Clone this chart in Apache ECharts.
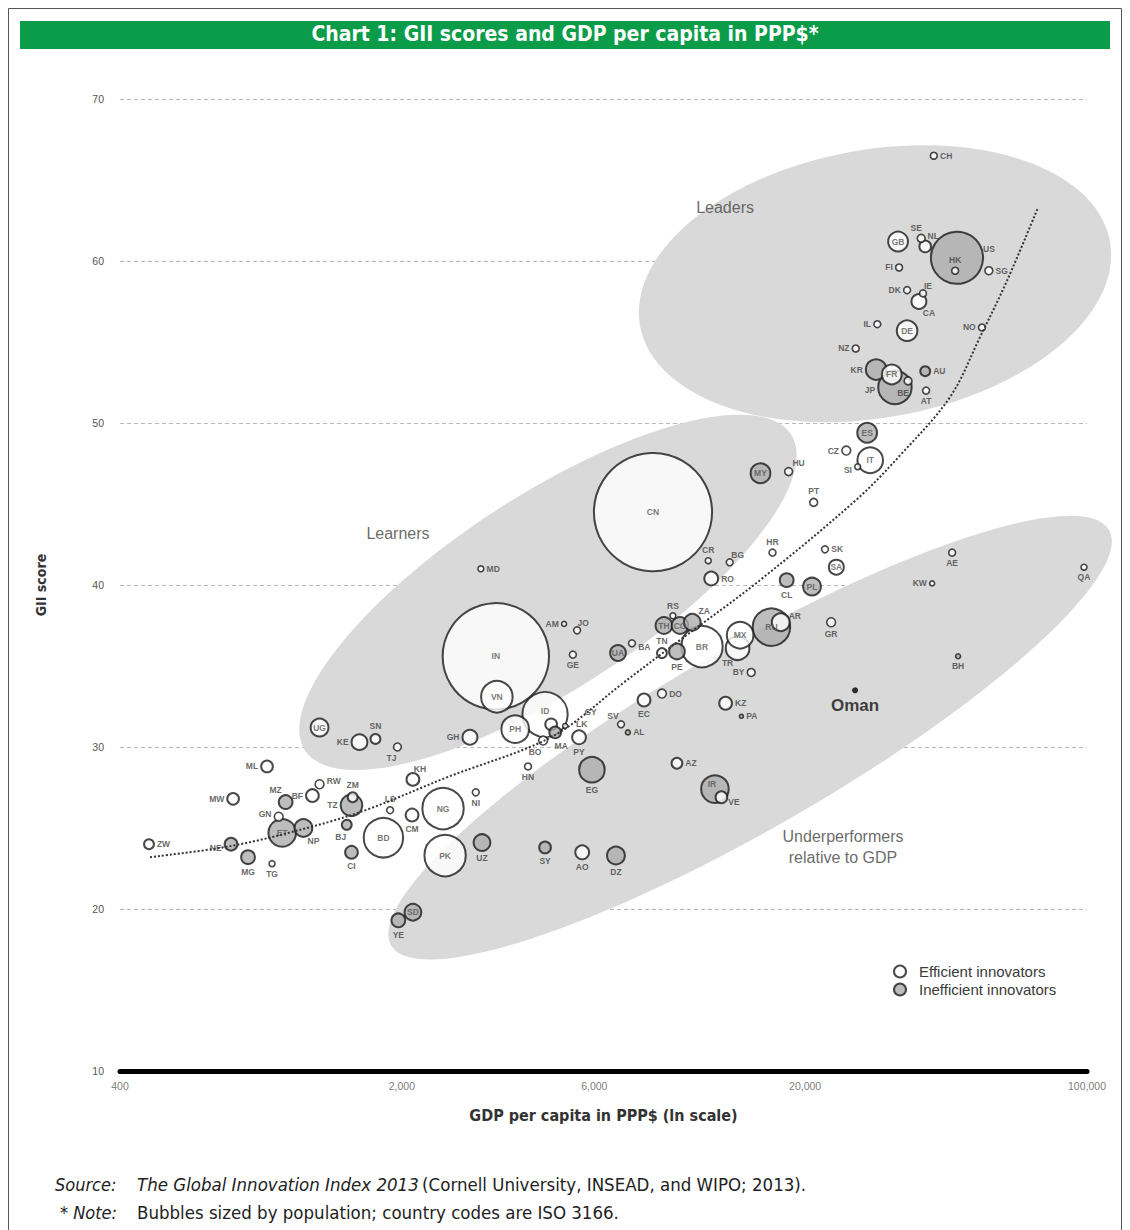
<!DOCTYPE html>
<html><head><meta charset="utf-8">
<script src="https://cdn.jsdelivr.net/npm/echarts@6/dist/echarts.min.js"></script>
<style>html,body{margin:0;padding:0;background:#fff;}#c{width:1130px;height:1230px;}</style>
</head><body><div id="c"></div>
<script>
// ---------------- DATA ----------------
const codes = ['CH','GB','SE','NL','US','HK','SG','FI','DK','IE',
  'CA','IL','DE','NO','NZ','KR','FR','AU','JP','BE',
  'AT','ES','CZ','IT','SI','HU','MY','PT','CN','SK',
  'HR','AE','CR','BG','SA','QA','MD','CL','RO','PL',
  'KW','RS','TH','CO','ZA','AR','RU','GR','MX','TR',
  'BR','TN','PE','UA','BA','AM','JO','GE','IN','BH',
  'BY','VN','DO','EC','KZ','PA','ID','SV','AL','PH',
  'LK','GY','MA','BO','PY','GH','UG','KE','SN','TJ',
  'AZ','HN','EG','ML','KH','IR','VE','NI','MW','BF',
  'RW','ZM','MZ','TZ','LS','GN','CM','NG','BJ','NP',
  'ET','BD','UZ','ZW','NE','SY','AO','CI','PK','DZ',
  'MG','TG','SD','YE'];
const gdpPerCapita = [41700,34000,38800,39700,47600,47100,57100,34200,35800,39200,
  38300,30200,35800,54900,26700,30000,32800,39700,33400,36000,
  39900,28500,25300,29000,27000,18200,15500,21000,8390,22400,
  16600,46300,11500,13000,23900,98300,3140,18000,11700,20800,
  41300,9400,8930,9790,10500,17400,16500,23200,13800,13600,
  11100,8830,9620,6870,7440,5050,5440,5310,3420,47900,
  14700,3440,8830,7970,12700,13900,4530,6990,7270,3820,
  4690,5080,4800,4480,5500,2950,1250,1570,1720,1950,
  9620,4110,5920,926,2130,11950,12400,3050,763,1200,
  1250,1510,1030,1500,1870,990,2120,2530,1460,1140,
  1010,1800,3160,472,754,4530,5600,1500,2560,6790,
  831,953,2130,1960];
const giiScore = [66.5,61.2,61.4,60.9,60.2,59.4,59.4,59.6,58.2,58.0,
  57.5,56.1,55.7,55.9,54.6,53.3,53.0,53.2,52.2,52.6,
  52.0,49.4,48.3,47.7,47.3,47.0,46.9,45.1,44.5,42.2,
  42.0,42.0,41.5,41.4,41.1,41.1,41.0,40.3,40.4,39.9,
  40.1,38.1,37.5,37.5,37.7,37.7,37.4,37.7,36.9,36.1,
  36.2,35.8,35.9,35.8,36.4,37.6,37.2,35.7,35.6,35.6,
  34.6,33.1,33.3,32.9,32.7,31.9,32.0,31.4,30.9,31.1,
  31.4,31.3,30.9,30.4,30.6,30.6,31.2,30.3,30.5,30.0,
  29.0,28.8,28.6,28.8,28.0,27.4,26.9,27.2,26.8,27.0,
  27.7,26.9,26.6,26.4,26.1,25.7,25.8,26.2,25.2,25.0,
  24.7,24.4,24.1,24.0,24.0,23.8,23.5,23.5,23.3,23.3,
  23.2,22.8,19.8,19.3];
const populationMn = [4.5,37,5.9,13,258,4.5,5.9,4.5,4.5,4.5,
  21,4.5,40,4.5,4.5,40,37,9.2,106,5.9,
  4.5,37,7.4,62,3.3,5.9,37,5.9,1322,4.5,
  4.5,4.5,3.3,4.5,21,3.3,3.3,18,18,30,
  2.3,3.3,26.5,26.5,26.5,30,133,7.4,67,53,
  162,9.2,23.5,23.5,4.5,2.3,4.5,4.5,1071,2.3,
  5.9,94,7.4,15.5,15.5,1.5,194,4.5,2.3,72,
  13,2.3,13,7.4,18,21,30,23.5,9.2,5.9,
  11,4.5,62,13,15.5,72,13,4.5,13,15.5,
  7.4,9.2,18,44,4.5,7.4,15.5,162,9.2,30,
  72,147,26.5,9.2,15.5,13,18,15.5,162,30,
  18,3.3,26.5,18];
const efficientInnovator = [1,1,1,1,0,1,1,1,1,1,
  1,1,1,1,1,0,1,0,0,1,
  1,0,1,1,1,1,0,1,1,1,
  1,1,1,1,1,1,1,0,1,0,
  1,1,0,0,0,1,0,1,1,1,
  1,1,0,0,1,1,1,1,1,0,
  1,1,1,1,1,0,1,1,0,1,
  1,1,0,1,1,1,1,1,1,1,
  1,1,0,1,1,0,1,1,1,1,
  1,1,0,0,1,1,1,1,0,0,
  0,1,0,1,0,0,1,0,1,0,
  0,1,0,0];
const highlightName = ['Oman'];
const highlightGdp = [26600];
const highlightGii = [33.5];
const trendGdp = [475,758,1204,1667,2632,4157,5135,6951,9788,15461,26893,34384,45731,54280,63370,75600];
const trendGii = [23.2,23.9,25.1,26.2,28.2,30.0,31.2,33.8,36.6,40.3,45.3,48.0,51.6,55.3,58.8,63.3];
const xTickValues = [400,2000,6000,20000,100000];
const yTickMin = 10, yTickMax = 70, yTickStep = 10;
const regionNames = ['Leaders','Learners','Underperformers\nrelative to GDP'];
const regionLabelGdp = [12660,1956,24830];
const regionLabelGii = [63.3,43.2,23.8];
const regionStartGdp = [7790,1150,1880];
const regionStartGii = [56.0,29.8,17.75];
const regionEndGdp = [114000,18450,113400];
const regionEndGii = [61.2,49.3,43.4];
const legendNames = ['Efficient innovators','Inefficient innovators'];

// ---------------- STYLE / LAYOUT ----------------
const NARROW = '"Liberation Sans Narrow","Arial Narrow","DejaVu Sans Condensed",sans-serif';
const SANS = '"Liberation Sans",Arial,sans-serif';
const REGION_HALF_WIDTH_PX = [134, 97, 90];
const SIZE_K = 3.25;
const LBL = {CH:'r',GB:'i',SE:['t',-5,1],NL:['t',8,3],US:['r',-3,-9],HK:['t',0,0],SG:'r',FI:'l',DK:'l',IE:['t',5,3],
 CA:['b',10,-3],IL:'l',DE:'i',NO:'l',NZ:'l',KR:'l',FR:'i',AU:'r',JP:['l',0,3],BE:['b',-5,1],
 AT:'b',ES:'i',CZ:'l',IT:'i',SI:['l',0,3],HU:['t',10,3],MY:'i',PT:'t',CN:'i',SK:'r',
 HR:'t',AE:'b',CR:'t',BG:['t',8,3],SA:'i',QA:'b',MD:'r',CL:'b',RO:'r',PL:'i',
 KW:'l',RS:'t',TH:'i',CO:'i',ZA:['t',12,5],AR:['r',-4,-6],RU:'i',GR:'b',MX:'i',TR:['b',-10,-5],
 BR:'i',TN:'t',PE:'b',UA:'i',BA:['r',0,4],AM:'l',JO:['t',6,3],GE:'b',IN:'i',BH:'b',
 BY:'l',VN:'i',DO:'r',EC:'b',KZ:'r',PA:'r',ID:['i',0,-4],SV:['t',-8,2],AL:'r',PH:'i',
 LK:['r',16,0],GY:['r',14,-14],MA:['b',6,0],BO:['b',-8,0],PY:'b',GH:'l',UG:'i',KE:'l',SN:'t',TJ:['b',-6,0],
 AZ:'r',HN:'b',EG:'b',ML:'l',KH:['t',7,3],IR:['i',-3,-5],VE:['r',-2,5],NI:'b',MW:'l',BF:'l',
 RW:['r',0,-3],ZM:'t',MZ:['t',-10,2],TZ:'l',LS:'t',GN:['l',0,-3],CM:'b',NG:'i',BJ:['b',-6,0],NP:['b',10,-3],
 ET:'i',BD:'i',UZ:'b',ZW:'r',NE:['l',0,4],SY:'b',AO:'b',CI:'b',PK:'i',DZ:'b',
 MG:'b',TG:'b',SD:'i',YE:'b'};
const POS = {i:'inside',l:'left',r:'right',t:'top',b:'bottom'};
// drawing order tweaks (drawn later = on top)
const DRAW_LAST = {MX:1};

function bubbleSize(pop){ return Math.max(4, SIZE_K*Math.sqrt(pop)); }

const bubbles = codes.map((c,i)=>{
  let s = LBL[c] || 'r';
  if (typeof s === 'string') s = [s,0,0];
  const size = bubbleSize(populationMn[i]);
  return {
    name: c,
    value: [gdpPerCapita[i], giiScore[i], populationMn[i], efficientInnovator[i]],
    itemStyle: {color: efficientInnovator[i] ? '#ffffff' : '#acacac', borderColor:'#1a1a1a', borderWidth: size < 9 ? 1.6 : 2},
    label: {position: POS[s[0]], offset:[s[1], s[2]], distance: 2, color: s[0]==='i' ? '#555' : '#404040'}
  };
}).sort((a,b)=>((DRAW_LAST[a.name]||0)-(DRAW_LAST[b.name]||0)) || (b.value[2]-a.value[2]));

const chart = echarts.init(document.getElementById('c'), null, {renderer:'svg'});
const option = {
  animation:false,
  backgroundColor:'#ffffff',
  title:{text:'Chart 1: GII scores and GDP per capita in PPP$*', left:'center', top:23, padding:0,
    textStyle:{color:'#ffffff', fontSize:21, fontWeight:'bold', fontFamily:NARROW}},
  graphic:[
    {type:'rect', shape:{x:8.5,y:8.5,width:1113,height:1300}, style:{fill:'none', stroke:'#555', lineWidth:1}, z:-20},
    {type:'rect', shape:{x:20,y:21,width:1090,height:28}, style:{fill:'#0b9c4a'}, z:-10},
    {type:'text', left:55, top:1175, style:{text:'Source:', fontSize:18, fontStyle:'italic', fontFamily:NARROW, fill:'#222'}},
    {type:'text', left:137, top:1175, style:{text:'{a|The Global Innovation Index 2013} {b|(Cornell University, INSEAD, and WIPO; 2013).}',
      rich:{a:{fontSize:18.5, fontStyle:'italic', fontFamily:NARROW, fill:'#222'}, b:{fontSize:18.5, fontFamily:NARROW, fill:'#222'}}}},
    {type:'text', left:60, top:1203, style:{text:'* Note:', fontSize:18, fontStyle:'italic', fontFamily:NARROW, fill:'#222'}},
    {type:'text', left:137, top:1203, style:{text:'Bubbles sized by population; country codes are ISO 3166.', fontSize:18.5, fontFamily:NARROW, fill:'#222'}}
  ],
  legend:{data:legendNames, orient:'vertical', left:888, top:959, itemWidth:28, itemHeight:12, itemGap:3, icon:'circle',
    selectedMode:false, textStyle:{fontSize:15, color:'#3a3a3a', fontFamily:SANS}},
  grid:{left:120, right:43, top:99, bottom:159, containLabel:false},
  xAxis:{type:'log', logBase:10, min:400, max:100000,
    name:'GDP per capita in PPP$ (ln scale)', nameLocation:'middle', nameGap:36,
    nameTextStyle:{fontSize:16, fontWeight:'bold', color:'#333', fontFamily:NARROW},
    axisLine:{show:true, onZero:false, lineStyle:{color:'#000', width:5}},
    axisTick:{show:false}, axisLabel:{show:false}, splitLine:{show:false}, minorSplitLine:{show:false}},
  yAxis:{type:'value', min:yTickMin, max:yTickMax, interval:yTickStep,
    name:'GII score', nameLocation:'middle', nameGap:72, nameRotate:90,
    nameTextStyle:{fontSize:14, fontWeight:'bold', color:'#333', fontFamily:NARROW},
    axisLine:{show:false}, axisTick:{show:false},
    axisLabel:{fontSize:10.5, color:'#555', margin:16, fontFamily:SANS},
    splitLine:{show:true, lineStyle:{type:[4,3], color:'#b8b8b8', width:1}}},
  series:[
    {type:'custom', name:'regions', silent:true, z:1,
      data: regionStartGdp.map((g,i)=>[g, regionStartGii[i], regionEndGdp[i], regionEndGii[i]]),
      encode:{x:[0,2], y:[1,3]},
      renderItem:function(params, api){
        const p1 = api.coord([api.value(0), api.value(1)]);
        const p2 = api.coord([api.value(2), api.value(3)]);
        const b = REGION_HALF_WIDTH_PX[params.dataIndex];
        const cx=(p1[0]+p2[0])/2, cy=(p1[1]+p2[1])/2;
        const a=Math.hypot(p2[0]-p1[0], p2[1]-p1[1])/2, ang=Math.atan2(p2[1]-p1[1], p2[0]-p1[0]);
        const pts=[];
        for(let k=0;k<120;k++){const t=k/120*2*Math.PI; const ex=a*Math.cos(t), ey=b*Math.sin(t);
          pts.push([cx+ex*Math.cos(ang)-ey*Math.sin(ang), cy+ex*Math.sin(ang)+ey*Math.cos(ang)]);}
        return {type:'polygon', shape:{points:pts}, style:{fill:'#d9d9d9'}};
      }},
    {type:'scatter', name:'region labels', silent:true, z:4, symbolSize:1, itemStyle:{color:'rgba(0,0,0,0)'},
      data: regionNames.map((n,i)=>({name:n, value:[regionLabelGdp[i], regionLabelGii[i]]})),
      label:{show:true, position:'inside', formatter:'{b}', fontSize:16, color:'#444', fontFamily:SANS, lineHeight:21}},
    {type:'scatter', name:'economies', z:2, clip:false,
      data: bubbles,
      symbolSize: v=>bubbleSize(v[2]),
      label:{show:true, formatter:'{b}', fontSize:8.5, fontWeight:'bold', fontFamily:SANS}},
    {type:'line', name:'trend', z:3, smooth:0.35, symbol:'none', silent:true,
      data: trendGdp.map((g,i)=>[g, trendGii[i]]),
      lineStyle:{type:'dotted', width:2, color:'#333'}},
    {type:'scatter', name:'highlight', z:4, symbolSize:6, itemStyle:{color:'#000'},
      data: highlightName.map((n,i)=>({name:n, value:[highlightGdp[i], highlightGii[i]]})),
      label:{show:true, position:'bottom', distance:4, formatter:'{b}', fontSize:17, fontWeight:'bold', color:'#111', fontFamily:SANS}},
    {type:'scatter', name:'x tick labels', silent:true, z:5, clip:false, symbolSize:1, itemStyle:{color:'rgba(0,0,0,0)'},
      data: xTickValues.map(v=>[v, yTickMin]),
      label:{show:true, position:'bottom', distance:9, formatter:p=>p.value[0].toLocaleString('en-US'), fontSize:10.5, color:'#555', fontFamily:SANS}},
    {type:'scatter', name:legendNames[0], data:[], itemStyle:{color:'#ffffff', borderColor:'#1a1a1a', borderWidth:2}},
    {type:'scatter', name:legendNames[1], data:[], itemStyle:{color:'#acacac', borderColor:'#1a1a1a', borderWidth:2}}
  ]
};
chart.setOption(option);
</script>
</body></html>
